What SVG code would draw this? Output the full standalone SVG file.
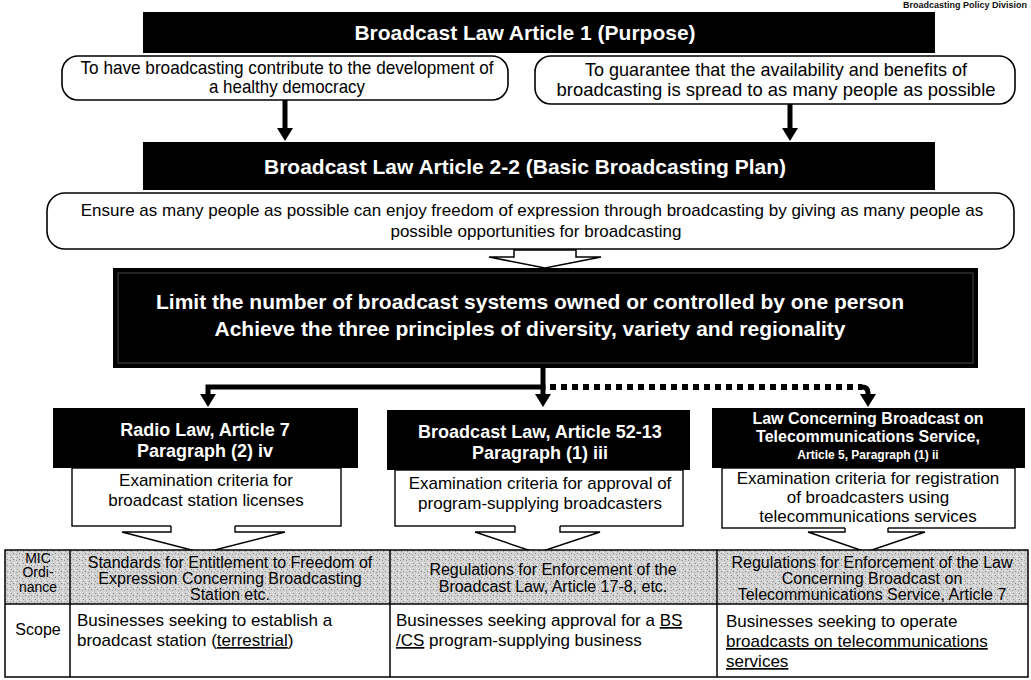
<svg xmlns="http://www.w3.org/2000/svg" width="1031" height="680" viewBox="0 0 1031 680">
<defs>
<style>
.bar{fill:#000}
.bt{font-family:"Liberation Sans",Arial,sans-serif;font-weight:bold;fill:#fff;text-anchor:middle}
.rb{fill:#fff;stroke:#000;stroke-width:1.6}
.bx{fill:#fff;stroke:#000;stroke-width:1.4}
.t{font-family:"Liberation Sans",Arial,sans-serif;fill:#000;text-anchor:middle}
.tn{font-family:"Liberation Sans Narrow","Liberation Sans",Arial,sans-serif;fill:#000;text-anchor:middle;font-size:19px}
.tl{font-family:"Liberation Sans",Arial,sans-serif;fill:#000}
.ln{stroke:#000;stroke-width:5;fill:none}
.dot{stroke:#000;stroke-width:6;fill:none;stroke-dasharray:6 5}
.ah{fill:#000}
.ptr{fill:#fff;stroke:none}
.ptl{fill:none;stroke:#000;stroke-width:1.4}
.grid{stroke:#000;stroke-width:1.5;fill:none}
</style>
<pattern id="grain" width="6" height="6" patternUnits="userSpaceOnUse">
<rect width="6" height="6" fill="#d2d2d2"/>
<rect x="1" y="1" width="1" height="1" fill="#888"/>
<rect x="4" y="2" width="1" height="1" fill="#9e9e9e"/>
<rect x="2" y="4" width="1" height="1" fill="#f4f4f4"/>
<rect x="5" y="5" width="1" height="1" fill="#8e8e8e"/>
<rect x="3" y="0" width="1" height="1" fill="#ececec"/>
</pattern>
</defs>
<rect width="1031" height="680" fill="#fff"/>

<g id="division-label">
<text x="903" y="8" style="font-family:'Liberation Sans',Arial,sans-serif;font-weight:bold;font-size:9px;fill:#111">Broadcasting Policy Division</text>
</g>

<g id="article1">
<rect class="bar" x="143" y="12" width="792" height="41"/>
<text class="bt" x="525" y="40" font-size="21">Broadcast Law Article 1 (Purpose)</text>
</g>

<g id="purpose-democracy">
<rect class="rb" x="62" y="56" width="446" height="44" rx="16"/>
<text class="tn" x="287" y="74" textLength="413" lengthAdjust="spacingAndGlyphs">To have broadcasting contribute to the development of</text>
<text class="tn" x="287" y="93" textLength="156" lengthAdjust="spacingAndGlyphs">a healthy democracy</text>
</g>

<g id="purpose-availability">
<rect class="rb" x="535" y="56" width="480" height="48" rx="16"/>
<text class="tn" x="776" y="76" textLength="382" lengthAdjust="spacingAndGlyphs">To guarantee that the availability and benefits of</text>
<text class="tn" x="776" y="96" textLength="439" lengthAdjust="spacingAndGlyphs">broadcasting is spread to as many people as possible</text>
</g>

<g id="article2-2">
<rect class="bar" x="143" y="142" width="792" height="48"/>
<text class="bt" x="525" y="174" font-size="21">Broadcast Law Article 2-2 (Basic Broadcasting Plan)</text>
</g>

<g id="ensure">
<rect class="rb" x="47" y="193" width="967" height="56" rx="18"/>
<text class="t" x="532" y="216" font-size="17">Ensure as many people as possible can enjoy freedom of expression through broadcasting by giving as many people as</text>
<text class="t" x="536" y="237" font-size="17">possible opportunities for broadcasting</text>
</g>

<g id="principle">
<rect class="bar" x="113" y="268" width="865" height="100"/>
<rect x="118" y="273" width="855" height="90" fill="none" stroke="#777" stroke-width="1" opacity="0.6"/>
<text class="bt" x="530" y="309" font-size="21">Limit the number of broadcast systems owned or controlled by one person</text>
<text class="bt" x="530" y="336" font-size="21">Achieve the three principles of diversity, variety and regionality</text>
</g>

<g id="radio-law">
<rect class="bar" x="53" y="408" width="305" height="60"/>
<text class="bt" x="205" y="436" font-size="18">Radio Law, Article 7</text>
<text class="bt" x="205" y="457" font-size="18">Paragraph (2) iv</text>
<rect class="bx" x="72" y="468" width="269" height="58"/>
<text class="t" x="206" y="486" font-size="17">Examination criteria for</text>
<text class="t" x="206" y="506" font-size="17">broadcast station licenses</text>
<polygon class="ptr" points="171,524 235,524 235,532 285,532 203,553 122,532 171,532"/>
<path class="ptl" d="M171,526 V532 H122 L203,553 L285,532 H235 V526"/>
</g>

<g id="broadcast-law-52">
<rect class="bar" x="387" y="410" width="303" height="60"/>
<text class="bt" x="540" y="438" font-size="18">Broadcast Law, Article 52-13</text>
<text class="bt" x="540" y="459" font-size="18">Paragraph (1) iii</text>
<rect class="bx" x="395" y="470" width="288" height="56"/>
<text class="t" x="540" y="489" font-size="17">Examination criteria for approval of</text>
<text class="t" x="540" y="509" font-size="17">program-supplying broadcasters</text>
<polygon class="ptr" points="515,524 560,524 560,532 600,532 537,553 475,532 515,532"/>
<path class="ptl" d="M515,526 V532 H475 L537,553 L600,532 H560 V526"/>
</g>

<g id="telecom-law">
<rect class="bar" x="712" y="408" width="313" height="60"/>
<text class="bt" x="868" y="424" font-size="16">Law Concerning Broadcast on</text>
<text class="bt" x="868" y="442" font-size="16">Telecommunications Service,</text>
<text class="bt" x="868" y="459" font-size="12">Article 5, Paragraph (1) ii</text>
<rect class="bx" x="722" y="468" width="293" height="60"/>
<text class="t" x="868" y="484" font-size="17">Examination criteria for registration</text>
<text class="t" x="868" y="503" font-size="17">of broadcasters using</text>
<text class="t" x="868" y="522" font-size="17">telecommunications services</text>
<polygon class="ptr" points="845,526 888,526 888,532 925,532 866,552 808,532 845,532"/>
<path class="ptl" d="M845,528 V532 H808 L866,552 L925,532 H888 V528"/>
</g>

<g id="table">
<rect x="5" y="550" width="1023" height="54" fill="url(#grain)"/>
<rect x="5" y="604" width="1023" height="73" fill="#fff"/>
<rect class="grid" x="5" y="550" width="1023" height="127" stroke-width="2.2"/>
<line class="grid" x1="5" y1="604" x2="1028" y2="604"/>
<line class="grid" x1="70" y1="550" x2="70" y2="677"/>
<line class="grid" x1="390" y1="550" x2="390" y2="677"/>
<line class="grid" x1="717" y1="550" x2="717" y2="677"/>
<text class="t" x="38" y="563" font-size="14">MIC</text>
<text class="t" x="38" y="577" font-size="14">Ordi-</text>
<text class="t" x="38" y="592" font-size="14">nance</text>
<text class="t" x="38" y="635" font-size="16">Scope</text>
<text class="t" x="230" y="568" font-size="16">Standards for Entitlement to Freedom of</text>
<text class="t" x="230" y="584" font-size="16">Expression Concerning Broadcasting</text>
<text class="t" x="230" y="600" font-size="16">Station etc.</text>
<text class="t" x="553" y="575" font-size="16">Regulations for Enforcement of the</text>
<text class="t" x="553" y="592" font-size="16">Broadcast Law, Article 17-8, etc.</text>
<text class="t" x="872" y="568" font-size="16">Regulations for Enforcement of the Law</text>
<text class="t" x="872" y="584" font-size="16">Concerning Broadcast on</text>
<text class="t" x="872" y="600" font-size="16">Telecommunications Service, Article 7</text>
<text class="tl" x="77" y="626" font-size="17">Businesses seeking to establish a</text>
<text class="tl" x="77" y="646" font-size="17">broadcast station (<tspan text-decoration="underline">terrestrial</tspan>)</text>
<text class="tl" x="396" y="626" font-size="17">Businesses seeking approval for a <tspan text-decoration="underline">BS</tspan></text>
<text class="tl" x="396" y="646" font-size="17"><tspan text-decoration="underline">/CS</tspan> program-supplying business</text>
<text class="tl" x="726" y="627" font-size="17">Businesses seeking to operate</text>
<text class="tl" x="726" y="647" font-size="17" text-decoration="underline">broadcasts on telecommunications</text>
<text class="tl" x="726" y="667" font-size="17" text-decoration="underline">services</text>
</g>

<g id="connectors">
<line class="ln" x1="285" y1="100" x2="285" y2="130"/>
<polygon class="ah" points="277,128 293,128 285,141"/>
<line class="ln" x1="790" y1="104" x2="790" y2="130"/>
<polygon class="ah" points="782,128 798,128 790,141"/>
<polygon points="514,250 576,250 576,257 601,257 545,268 489,257 514,257" fill="#fff" stroke="#000" stroke-width="1.5"/>
<line class="ln" x1="543" y1="368" x2="543" y2="396"/>
<polygon class="ah" points="535,394 551,394 543,407"/>
<polyline class="ln" points="208,396 208,387 545.5,387"/>
<polygon class="ah" points="200,394 216,394 208,407"/>
<line class="dot" x1="550" y1="387" x2="862" y2="387"/>
<path class="ln" d="M862,387 Q868,387 868,393 V396"/>
<polygon class="ah" points="860,394 876,394 868,407"/>
</g>
</svg>
